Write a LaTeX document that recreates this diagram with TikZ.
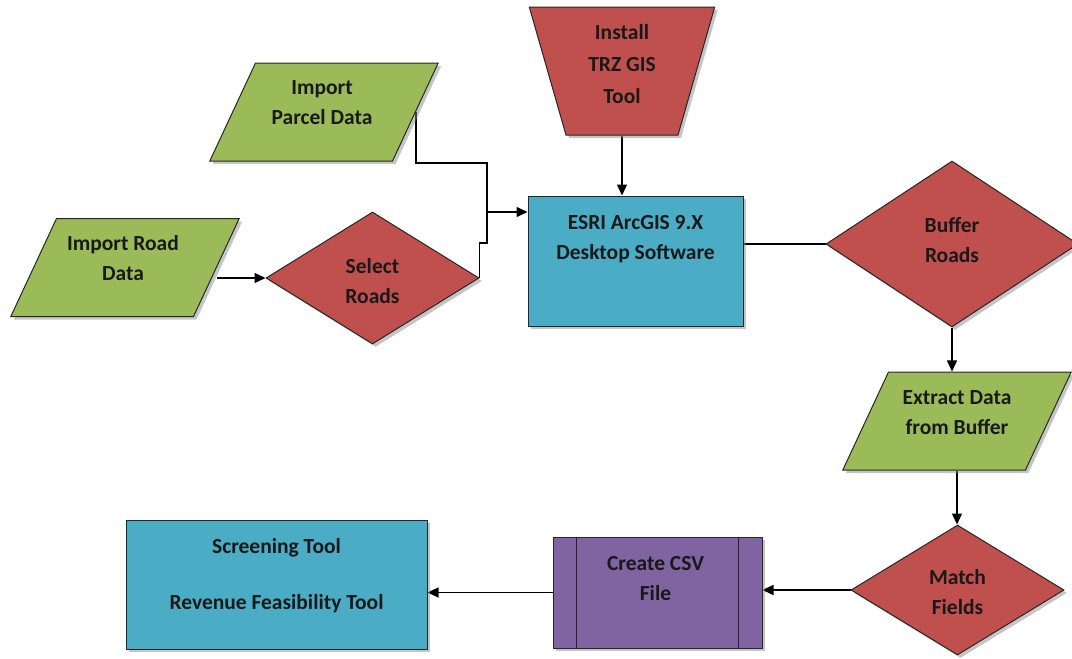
\documentclass[tikz,border=0pt]{standalone}
\usepackage{fontspec}
\setmainfont{Carlito}
\usetikzlibrary{shapes,positioning,arrows.meta,shadows,backgrounds}
\tikzset{>={Triangle[length=11pt,width=10pt]}}
\definecolor{boxGreen}{HTML}{9BBB59}
\definecolor{boxRed}{HTML}{C0504D}
\definecolor{boxBlue}{HTML}{4BACC6}
\definecolor{boxPurple}{HTML}{8064A2}
\tikzset{
  base/.style={draw=black!85, line width=1pt, inner sep=0pt,
    drop shadow={shadow xshift=3pt, shadow yshift=-3pt, fill=black!45, opacity=0.5}},
  datapara/.style={base, fill=boxGreen, trapezium, trapezium left angle=65,
    trapezium right angle=115, text width=137pt, text height=98pt, text depth=0pt},
  decide/.style={base, fill=boxRed, diamond},
  manual/.style={base, fill=boxRed, trapezium, trapezium left angle=106,
    trapezium right angle=106, text width=112pt, text height=128pt, text depth=0pt},
  procbox/.style={base, fill=boxBlue, rectangle},
  subproc/.style={base, fill=boxPurple, rectangle},
  txt/.style={font=\bfseries\fontsize{21.5}{30}\selectfont, align=center, text=black!90},
  conn/.style={line width=1.2pt, black},
}
\begin{document}
\begin{tikzpicture}[x=1pt,y=-1pt]
\useasboundingbox (0,0) rectangle (1072,659);

% shapes
\node[datapara] (parcel) at (324,112) {};
\node[datapara] (road) at (125,267.5) {};
\node[decide, minimum width=213pt, minimum height=132pt] (select) at (372.5,278) {};
\node[manual] (install) at (622,71) {};
\node[procbox, minimum width=215pt, minimum height=130pt] (esri) at (635.5,261) {};
\node[decide, minimum width=252pt, minimum height=166pt] (buffer) at (952,244) {};
\node[datapara] (extract) at (957,421) {};
\node[decide, minimum width=213pt, minimum height=130pt] (match) at (957.5,590) {};
\node[subproc, minimum width=209pt, minimum height=111pt] (csv) at (657.5,592.5) {};
\draw[line width=1pt, draw=black!85] ([xshift=24pt]csv.north west) -- ([xshift=24pt]csv.south west)
  ([xshift=-24pt]csv.north east) -- ([xshift=-24pt]csv.south east);
\node[procbox, minimum width=301pt, minimum height=129pt] (screen) at (276.5,584.5) {};

% texts
\node[txt] (parcelTxt) at ([xshift=-2pt,yshift=9pt]parcel.center) {Import\\Parcel Data};
\node[txt] (roadTxt) at ([xshift=-2pt,yshift=9pt]road.center) {Import Road\\Data};
\node[txt] (selectTxt) at ([yshift=-3pt]select.center) {Select\\Roads};
\node[txt, font=\bfseries\fontsize{21.5}{32}\selectfont] (installTxt) at ([yshift=7pt]install.center) {Install\\TRZ GIS\\Tool};
\node[txt] (esriTxt) at ([yshift=22pt]esri.center) {ESRI ArcGIS 9.X\\Desktop Software};
\node[txt] (bufferTxt) at ([yshift=4pt]buffer.center) {Buffer\\Roads};
\node[txt] (extractTxt) at ([yshift=8pt]extract.center) {Extract Data\\from Buffer};
\node[txt] (matchTxt) at ([yshift=-2pt]match.center) {Match\\Fields};
\node[txt] (csvTxt) at ([xshift=-2pt,yshift=14pt]csv.center) {Create CSV\\File};
\node[txt] (screenTxt) at ([yshift=9pt]screen.center) {Screening Tool\\[26pt]Revenue Feasibility Tool};

% connectors
\coordinate (merge) at (487,212);
\coordinate (bendP) at (487,163);
\coordinate (bendS) at (487,243);
\begin{scope}[on background layer]
\draw[conn] (parcel.east) |- (bendP) -- (merge);
\draw[conn] (select.east) |- (bendS) -- (merge);
\draw[conn,->] (merge) -- (merge -| esri.west);
\draw[conn,->] (select.west -| road.east) -- (select.west);
\draw[conn,->] (install.south) -- (install.south |- esri.north);
\draw[conn] (buffer.west -| esri.east) -- (buffer.west);
\draw[conn,->] (buffer.south) -- (buffer.south |- extract.north);
\draw[conn,->] (extract.south) -- (extract.south |- match.north);
\draw[conn,->] (match.west) -- (match.west -| csv.east);
\draw[conn,->] (csv.west) -- (csv.west -| screen.east);
\end{scope}
\end{tikzpicture}
\end{document}
